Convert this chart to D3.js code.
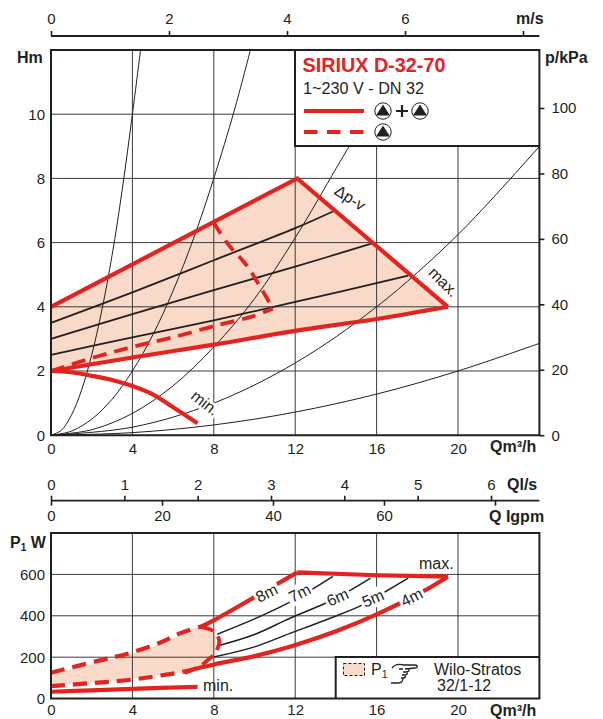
<!DOCTYPE html>
<html><head><meta charset="utf-8">
<script src="https://cdn.jsdelivr.net/npm/d3@7/dist/d3.min.js"></script>
<style>
html,body{margin:0;padding:0;background:#fff;overflow:hidden}
svg{display:block}
text{font-family:"Liberation Sans",Helvetica,Arial,sans-serif;fill:#231f20}
.num{font-size:15px}
.note{font-size:16px}
.b{font-weight:bold;font-size:16px}
.domain{display:none}
</style></head><body>
<script>
// ---- tick values ----
const flowTicks=[0,4,8,12,16,20];
const headTicks=[0,2,4,6,8,10];
const kpaTicks=[0,20,40,60,80,100];
const msTicks=[0,2,4,6,8];
const msLabels=["0","2","4","6",""];
const lsTicks=[0,1,2,3,4,5,6];
const lsLabels=["0","1","2","3","4","5","6"];
const igpmTicks=[0,20,40,60,80];
const igpmLabels=["0","20","40","60",""];
const powerTicks=[0,200,400,600];
// ---- system curves (Q, H) ----
const sys1=[[0,0],[.5,.15],[1,.62],[1.5,1.4],[2,2.5],[2.5,3.9],[3,5.6],[3.5,7.65],[4,10],[4.4,12]];
const sys2=[[0,0],[1,.125],[2,.5],[3,1.12],[4,2],[5,3.12],[6,4.5],[7,6.12],[8,8],[9,10.1],[9.8,12]];
const sys3=[[0,0],[2,.17],[4,.68],[6,1.54],[8,2.75],[10,4.25],[12,6.15],[14,8.3],[14.65,9]];
const sys4=[[0,0],[4,.25],[8,1],[12,2.25],[16,4],[20,6.25],[24,9]];
const sys5=[[0,0],[4,.08],[8,.32],[12,.72],[16,1.28],[20,2],[24,2.86]];
// ---- head curves ----
const headRegion=[[0,4],[12.1,8],[19.5,4],[16,3.62],[12,3.25],[8,2.82],[4,2.42],[0,2]];
const headUpper=[[0,4],[12.1,8],[19.5,4]];
const headLower=[[0,2],[4,2.42],[8,2.82],[12,3.25],[16,3.62],[19.5,4]];
const headMin=[[0,2],[1,1.96],[2,1.85],[3,1.72],[4,1.53],[5,1.27],[6,.87],[7.2,.37]];
const dp1=[[0,3.5],[4,4.45],[8,5.45],[12,6.45],[13.85,6.97]];
const dp2=[[0,3],[4,3.77],[8,4.52],[12,5.25],[15.9,6]];
const dp3=[[0,2.5],[4,3.05],[8,3.58],[12,4.15],[17.55,4.97]];
const singleLower=[[0,2],[2,2.4],[4,2.75],[6,3.05],[8,3.4],[10,3.72],[10.9,3.95]];
const singleRight=[[8,6.62],[8.7,5.95],[9.6,5.3],[10.3,4.6],[10.9,3.95]];
// ---- power curves (Q, P1) ----
const pTopDash=[[0,125],[2.24,181],[3.8,218],[5.35,270],[6.34,315],[7.4,349]];
const pTopSolid=[[7.4,349],[8,378],[10,490],[12.1,610],[16,596],[19.5,589]];
const pLowDash=[[0,60],[2,75],[4,92],[6.5,129]];
const p4m=[[6.5,129],[8,165],[10,205],[11.74,250],[14,325],[16,407],[18.3,519],[19.5,589]];
const pRightDash=[[7.32,346],[7.96,327],[8.26,283],[8.1,225],[7.7,186],[7.32,157],[6.58,124]];
const pRegion=[[0,115],[2.24,172],[3.8,210],[5.35,262],[6.34,307],[7.32,345],[8,325],[8,200],[7.32,157],[6.5,132],[4,96],[2,78],[0,64]];
const pMin=[[0,33],[2,40],[4,47],[7.2,57]];
const p7m=[[8.17,311],[10,385],[11.74,466],[12.76,523],[13.85,590]];
const p6m=[[8.3,258],[10,310],[11.74,388],[13.5,462],[14.7,523],[15.7,582]];
const p5m=[[8,201],[10,250],[11.74,315],[13.5,380],[15.26,450],[16.4,515],[17.55,582]];
// ---- curve labels: text, Q, value, angle ----
const headNotes=[["min.",7.4,.87,38],["max.",19.1,4.65,45],["Δp-v",14.55,7.25,33]];
const powerNotes=[["8m",10.6,510,-27],["7m",12.22,510,-27],["6m",14.08,490,-24],["5m",15.82,485,-23],["4m",17.72,490,-27]];

const red="#e4231f", ink="#231f20", tint="#f9dac8";
const W=603,H=719,L=51,R=539.4;
const svg=d3.select("body").append("svg").attr("width",W).attr("height",H);
const x=d3.scaleLinear().domain([0,24]).range([L,R]);
const y=d3.scaleLinear().domain([0,12]).range([435.2,50]);
const yk=d3.scaleLinear().domain([0,100]).range([435.2,108]);
const yp=d3.scaleLinear().domain([0,800]).range([698.6,533]);
const ms=d3.scaleLinear().domain([0,8]).range([L,523]);
const ls=d3.scaleLinear().domain([0,6]).range([L,491]);
const ig=d3.scaleLinear().domain([0,80]).range([L,495]);
const smooth=(ys)=>d3.line().x(d=>x(d[0])).y(d=>ys(d[1])).curve(d3.curveCatmullRom.alpha(.5));
const straight=(ys)=>d3.line().x(d=>x(d[0])).y(d=>ys(d[1]));
function path(d,w,c,dash){const p=svg.append("path").attr("d",d).attr("fill","none").attr("stroke",c).attr("stroke-width",w);
  if(dash)p.attr("stroke-dasharray",dash);return p;}
function txt(s,px,py,cls,anchor){return svg.append("text").attr("x",px).attr("y",py).attr("class",cls||"note").attr("text-anchor",anchor||"start").text(s);}

function grid(ys,yv,top,bottom){
  const g=svg.append("g").attr("stroke","#3a3a3a").attr("stroke-width",1);
  g.selectAll(".v").data(flowTicks.slice(1)).join("line").attr("x1",d=>x(d)).attr("x2",d=>x(d)).attr("y1",top).attr("y2",bottom);
  g.selectAll(".h").data(yv).join("line").attr("x1",L).attr("x2",R).attr("y1",d=>ys(d)).attr("y2",d=>ys(d));
}
function tickAxis(g){g.selectAll(".tick line").attr("stroke",ink).attr("stroke-width",1.6);g.selectAll(".tick text").attr("class","num");}

// ---- head chart ----
svg.append("path").attr("d",straight(y)(headRegion)+"Z").attr("fill",tint);
grid(y,headTicks.slice(1),50,435);
[sys1,sys2,sys3,sys4,sys5].forEach(s=>path(smooth(y)(s),1,ink));
[dp1,dp2,dp3].forEach(s=>path(smooth(y)(s),1.8,ink));
path(straight(y)(headUpper),4.2,red);
path(smooth(y)(headLower),4.2,red);
path(smooth(y)(headMin),4.2,red);
path(smooth(y)(singleLower),3.8,red,"14 8");
path(smooth(y)(singleRight),3.8,red,"13 8");
// legend box
svg.append("rect").attr("x",295).attr("y",50).attr("width",244.4).attr("height",96).attr("fill","#fff");
// frame
svg.append("path").attr("d",`M${L},50H${R}V435.2H${L}Z M295,50V146H${R}`).attr("fill","none").attr("stroke",ink).attr("stroke-width",2);

// axes for head chart
const gTop=svg.append("g").attr("transform","translate(0,36)").call(d3.axisTop(ms).tickValues(msTicks).tickSize(5).tickFormat((d,i)=>msLabels[i]));
tickAxis(gTop);gTop.selectAll("text").attr("y",-12);
svg.append("line").attr("x1",L).attr("x2",R).attr("y1",36).attr("y2",36).attr("stroke",ink).attr("stroke-width",1.8);
const gL=svg.append("g").attr("transform",`translate(${L},0)`).call(d3.axisLeft(y).tickValues(headTicks).tickSize(0));
gL.selectAll("text").attr("class","num").attr("x",-6);
const gBot=svg.append("g").attr("transform","translate(0,435.2)").call(d3.axisBottom(x).tickValues(flowTicks).tickSize(0));
gBot.selectAll("text").attr("class","num").attr("y",8);
const gR=svg.append("g").attr("transform",`translate(${R},0)`).call(d3.axisRight(yk).tickValues(kpaTicks).tickSize(5));
tickAxis(gR);gR.selectAll("text").attr("x",12);
txt("Hm",17,63,"b");txt("m/s",516,24,"b");txt("p/kPa",545,63,"b");txt("Qm³/h",490,452,"b");

// legend text
svg.append("text").attr("x",302.5).attr("y",72).attr("font-size",19.8).attr("font-weight","bold").style("fill",red).text("SIRIUX D-32-70");
svg.append("text").attr("x",303).attr("y",94).attr("font-size",16.2).text("1~230 V - DN 32");
path("M304,111H364",4.2,red);path("M304,132H364",4.2,red,"13.5 9.5");
function pump(cx,cy){svg.append("circle").attr("cx",cx).attr("cy",cy).attr("r",8.2).attr("fill","#fff").attr("stroke",ink).attr("stroke-width",1);
  svg.append("path").attr("d",`M${cx},${cy-6.5}L${cx+7},${cy+4.5}H${cx-7}Z`).attr("fill",ink);}
pump(383,111);pump(420,111);pump(383,132);
path("M396,111H408M402,105V117",2.2,ink);

// curve notes
headNotes.forEach(n=>{
  svg.append("text").attr("class","note").attr("text-anchor","middle").attr("transform",`translate(${x(n[1])},${y(n[2])}) rotate(${n[3]})`)
   .attr("stroke","#fff").attr("stroke-width",n[0]==="min."?5:0).attr("paint-order","stroke").text(n[0]);
});

// ---- flow axes between charts ----
const gLs=svg.append("g").attr("transform","translate(0,500.7)").call(d3.axisTop(ls).tickValues(lsTicks).tickSize(5).tickFormat((d,i)=>lsLabels[i]));
tickAxis(gLs);gLs.selectAll("text").attr("y",-11);
const gIg=svg.append("g").attr("transform","translate(0,500.7)").call(d3.axisBottom(ig).tickValues(igpmTicks).tickSize(5).tickFormat((d,i)=>igpmLabels[i]));
tickAxis(gIg);gIg.selectAll("text").attr("y",10);
svg.append("line").attr("x1",L).attr("x2",R).attr("y1",500.7).attr("y2",500.7).attr("stroke",ink).attr("stroke-width",1.8);
txt("Ql/s",507,490,"b");txt("Q Igpm",489,522,"b");

// ---- power chart ----
svg.append("path").attr("d",smooth(yp)(pRegion)+"Z").attr("fill",tint);
grid(yp,powerTicks.slice(1),533,698);
[p7m,p6m,p5m].forEach(s=>path(smooth(yp)(s),1.5,ink));
path(smooth(yp)(pTopDash),4.2,red,"14 8");
path(d3.line().x(d=>x(d[0])).y(d=>yp(d[1])).curve(d3.curveCatmullRom)(pTopSolid.slice(0,4)),4.2,red);
path(straight(yp)(pTopSolid.slice(3)),4.2,red);
path(smooth(yp)(pLowDash),4.2,red,"14 8");
path(smooth(yp)(p4m),4.2,red);
path(smooth(yp)(pRightDash),3.8,red,"14 7");
path(smooth(yp)(pMin),4.2,red);
svg.append("rect").attr("x",335.7).attr("y",657).attr("width",203.7).attr("height",41.6).attr("fill","#fff");
svg.append("path").attr("d",`M${L},533H${R}V698.6H${L}Z M335.7,698.6V657H${R}`).attr("fill","none").attr("stroke",ink).attr("stroke-width",2);

const gL2=svg.append("g").attr("transform",`translate(${L},0)`).call(d3.axisLeft(yp).tickValues(powerTicks).tickSize(0));
gL2.selectAll("text").attr("class","num").attr("x",-6);
const gB2=svg.append("g").attr("transform","translate(0,698.6)").call(d3.axisBottom(x).tickValues(flowTicks).tickSize(0));
gB2.selectAll("text").attr("class","num").attr("y",6);
txt("Qm³/h",490,716,"b");
const pw=txt("P",10,548,"b");pw.append("tspan").attr("font-size",10).attr("dy",3).text("1");pw.append("tspan").attr("dy",-3).text(" W");
txt("max.",419,569);txt("min.",203,691);

powerNotes.forEach(n=>{
  const g=svg.append("g").attr("transform",`translate(${x(n[1])},${yp(n[2])}) rotate(${n[3]})`);
  const r=g.append("rect").attr("fill","#fff");
  const t=g.append("text").attr("class","note").attr("text-anchor","middle").attr("dy","0.35em").text(n[0]);
  const b=t.node().getBBox();
  r.attr("x",b.x-2).attr("y",b.y-1).attr("width",b.width+4).attr("height",b.height+2);
});

// power legend
svg.append("rect").attr("x",343.5).attr("y",663.5).attr("width",21).attr("height",12).attr("fill",tint).attr("stroke",ink).attr("stroke-width",1).attr("stroke-dasharray","3 2");
const p1=txt("P",371,675);p1.append("tspan").attr("font-size",10.5).attr("dy",3).text("1");
path("M392,668C395,664 400,664 404,665L415,665C418,665 418,668 415,668L405,669M403,669L399,669M408,669C410,670 409,672 406,672L403,672M407,672C408,674 407,675 404,675L402,675M405,675C406,677 405,678 403,678L401,678M403,678C403,681 401,683 398,683L391,683",1.3,ink);
txt("Wilo-Stratos",434,674.5);txt("32/1-12",437,691);
</script>
</body></html>
